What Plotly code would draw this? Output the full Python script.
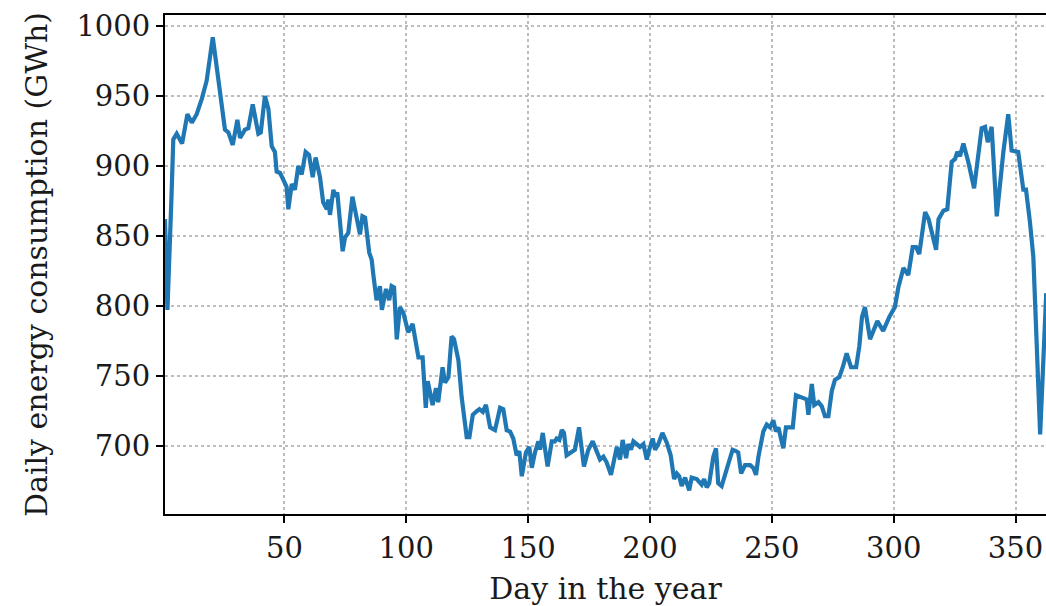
import plotly.graph_objects as go

# Day of year and daily energy consumption (GWh)
days = [1, 2, 3.7, 4.4, 5.8, 8.0, 10.2, 12.0, 14.0, 16.1, 18.1, 19.5, 20.6, 22.2, 24.3, 25.6, 27.0,
        28.8, 30.7, 31.8, 33.8, 35.2, 37.0, 39.3, 40.3, 42.0, 43.4, 44.8, 46.1, 46.8, 48.2, 49.5,
        50.9, 51.6, 53.0, 54.3, 55.7, 57.1, 58.7, 60.1, 61.6, 62.8, 64.6, 65.9, 67.4, 68.0, 68.7,
        70.1, 70.8, 71.7, 73.1, 73.9, 74.9, 76.2, 77.9, 79.4, 81.0, 82.0, 83.1, 84.8, 85.8, 86.5,
        87.8, 89.2, 90.0, 91.7, 93.0, 94.0, 95.0, 96.1, 97.4, 98.8, 100.8, 102.6, 105.0, 106.7,
        108.0, 108.8, 109.7, 110.8, 112.2, 113.1, 114.9, 115.9, 117.3, 118.6, 119.6, 121.4, 122.7,
        124.8, 125.9, 127.3, 128.6, 130.0, 131.4, 132.7, 134.4, 136.4, 138.5, 139.8, 141.2, 142.6,
        143.9, 145.3, 146.4, 147.4, 149.1, 150.5, 151.5, 152.8, 154.2, 154.9, 156.0, 156.9, 158.0,
        159.7, 161.0, 161.7, 162.8, 163.8, 164.7, 165.8, 167.9, 169.2, 170.9, 172.0, 172.9, 174.7,
        176.5, 178.1, 179.5, 180.9, 182.2, 184.0, 185.4, 186.4, 187.7, 188.8, 190.2, 191.1, 192.2,
        193.2, 194.6, 195.9, 197.3, 198.7, 199.7, 201.1, 202.1, 203.4, 205.1, 206.9, 208.5, 209.9,
        211.0, 212.0, 213.0, 214.4, 216.1, 217.1, 219.2, 221.2, 222.2, 223.3, 224.3, 226.0, 227.1,
        228.0, 229.4, 231.5, 233.9, 235.3, 236.2, 237.4, 239.0, 241.1, 242.4, 243.5, 244.5, 246.5,
        247.9, 249.3, 250.6, 251.7, 252.7, 253.6, 254.7, 255.8, 257.5, 258.6, 259.9, 261.3, 262.7,
        264.3, 265.0, 266.4, 267.4, 269.1, 270.5, 271.8, 273.2, 274.6, 275.9, 277.7, 279.1, 280.7,
        282.5, 284.6, 285.9, 287.0, 288.2, 290.3, 293.3, 295.7, 298.2, 300.5, 301.9, 304.0, 306.0,
        307.8, 309.2, 310.5, 312.9, 314.3, 317.4, 318.4, 320.4, 322.0, 323.8, 325.2, 326.1, 327.2,
        328.6, 330.6, 333.0, 334.7, 336.1, 337.5, 338.6, 340.2, 342.3, 345.0, 347.0, 348.4, 350.2,
        351.1, 353.2, 354.3, 355.9, 357.3, 358.5, 360.1, 362.6]

consumption = [862, 797, 880, 919, 923, 916, 937, 931, 937, 948, 961, 981, 992, 971, 941, 926, 924,
               915, 933, 920, 926, 927, 944, 923, 924, 950, 941, 914, 910, 896, 895, 890,
               885, 869, 887, 883, 900, 894, 910, 908, 892, 906, 892, 874, 869, 876, 865,
               883, 878, 881, 852, 839, 849, 852, 878, 864, 851, 864, 863, 838, 833, 822,
               804, 814, 797, 812, 804, 814, 813, 776, 799, 795, 781, 787, 763, 763,
               727, 746, 738, 729, 741, 731, 756, 745, 749, 778, 776, 761, 735,
               706, 706, 722, 724, 726, 724, 729, 713, 711, 727, 726, 711, 710,
               705, 693, 696, 678, 695, 699, 684, 695, 703, 697, 709, 696, 685,
               703, 703, 705, 704, 711, 709, 693, 696, 697, 713, 698, 685, 697,
               703, 696, 690, 692, 688, 679, 692, 699, 690, 704, 691, 701, 697,
               703, 701, 699, 701, 690, 697, 705, 697, 701, 709, 702, 693, 676,
               680, 678, 671, 677, 668, 677, 676, 672, 676, 670, 673, 692, 698,
               673, 671, 684, 697, 696, 695, 680, 686, 686, 684, 679, 692, 710,
               715, 713, 718, 710, 713, 706, 698, 713, 713, 713, 736, 735, 734,
               733, 722, 744, 729, 731, 728, 721, 721, 739, 747, 749, 756, 766,
               756, 756, 771, 792, 799, 776, 789, 782, 792, 799, 813, 827, 822,
               842, 842, 837, 867, 862, 840, 862, 868, 869, 903, 905, 910, 907,
               916, 903, 884, 907, 927, 928, 917, 928, 864, 910, 937, 911, 910,
               910, 883, 883, 860, 835, 781, 708, 809]

x_ticks = [50, 100, 150, 200, 250, 300, 350]
y_ticks = [700, 750, 800, 850, 900, 950, 1000]

FONT = "DejaVu Serif"
TXT = "#1a1a1a"

fig = go.Figure()
fig.add_trace(go.Scatter(
    x=days, y=consumption, mode="lines",
    line=dict(color="#1f77b4", width=4.2),
    hoverinfo="skip", showlegend=False,
))

axis_common = dict(
    showgrid=True, gridcolor="#bdbdbd", gridwidth=1.6, griddash="dot",
    showline=True, linecolor="black", linewidth=2,
    ticks="outside", ticklen=7, tickwidth=1.8, tickcolor="black",
    zeroline=False,
    tickfont=dict(family=FONT, size=29, color=TXT),
)

fig.update_xaxes(
    **axis_common, mirror=True,
    range=[1, 362.5], tickvals=x_ticks, ticktext=[str(v) for v in x_ticks],
    title=dict(text="Day in the year", font=dict(family=FONT, size=30, color=TXT), standoff=14),
)
fig.update_yaxes(
    **axis_common, mirror=False,
    range=[651, 1008], tickvals=y_ticks, ticktext=[str(v) for v in y_ticks],
    title=dict(text="Daily energy consumption (GWh)", font=dict(family=FONT, size=30, color=TXT), standoff=20),
)

fig.update_layout(
    width=1046, height=606,
    margin=dict(l=165, r=0, t=15, b=92),
    paper_bgcolor="white", plot_bgcolor="white",
)

fig.write_html("out.html")
